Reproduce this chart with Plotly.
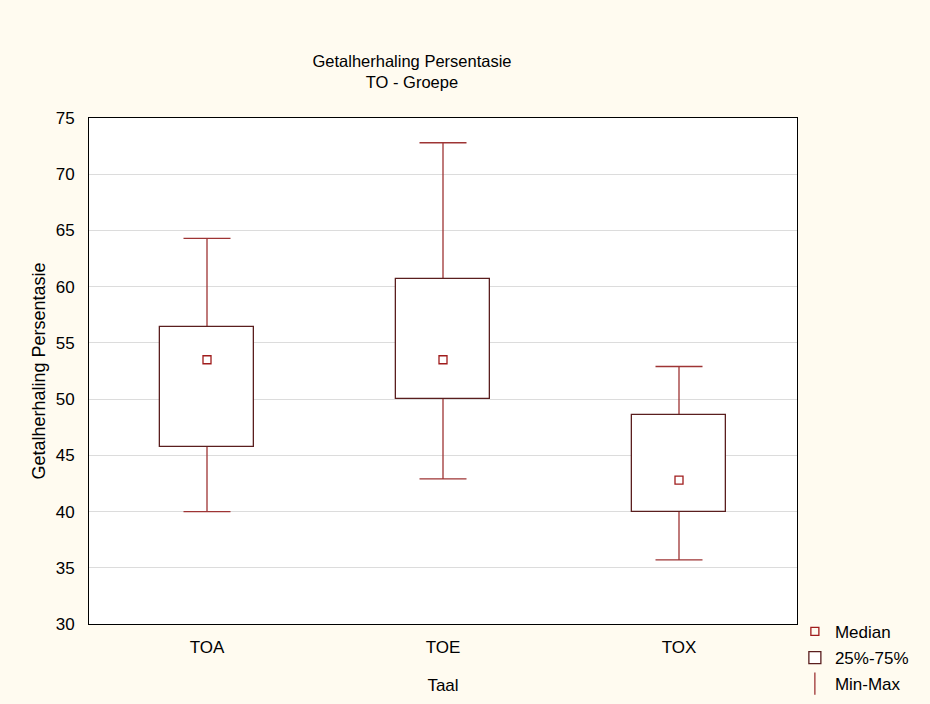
import plotly.graph_objects as go

categories = ["TOA", "TOE", "TOX"]
q_min = [40.0, 42.9, 35.7]
q1 = [45.7, 50.0, 40.0]
median = [53.5, 53.5, 42.8]
q3 = [56.4, 60.7, 48.6]
q_max = [64.3, 72.8, 52.9]

y_ticks = [30, 35, 40, 45, 50, 55, 60, 65, 70, 75]

whisker_col = "#9e3434"
box_col = "#5a1e1e"
med_col = "#a01c1c"
bg = "#fffbf0"
font = "Liberation Sans, Arial, sans-serif"

fig = go.Figure()

# whiskers (min-max) anchored at median, drawn beneath the box
fig.add_trace(go.Scatter(
    x=categories, y=median, mode="markers", name="Min-Max",
    marker=dict(symbol="line-ns-open", size=20, color=whisker_col,
                line=dict(color=whisker_col, width=1.3)),
    error_y=dict(type="data", symmetric=False,
                 array=[mx - m for mx, m in zip(q_max, median)],
                 arrayminus=[m - mn for m, mn in zip(median, q_min)],
                 color=whisker_col, thickness=1.3, width=23.5),
    yaxis="y", legendrank=3, legendgroup="c",
))

# box 25%-75% on overlay axis so it covers whisker
fig.add_trace(go.Bar(
    x=categories, y=[b - a for a, b in zip(q1, q3)], base=q1,
    name="25%-75%", width=0.4,
    marker=dict(color="white", line=dict(color=box_col, width=1.3)),
    yaxis="y2", legendrank=2, legendgroup="b",
))

# median markers
fig.add_trace(go.Scatter(
    x=categories, y=median, mode="markers", name="Median",
    marker=dict(symbol="square-open", size=8, color=med_col,
                line=dict(color=med_col, width=1.3)),
    yaxis="y2", legendrank=1, legendgroup="a",
))

fig.update_layout(
    width=930, height=704,
    paper_bgcolor=bg, plot_bgcolor="white",
    margin=dict(l=89, r=133, t=118, b=80, autoexpand=False),
    font=dict(family=font, size=17, color="black"),
    title=dict(text="Getalherhaling Persentasie<br>TO - Groepe",
               x=412 / 930, xanchor="center",
               y=1 - 67 / 704, yanchor="top",
               font=dict(family=font, size=16.5, color="black")),
    xaxis=dict(title=dict(text="Taal", standoff=22, font=dict(size=17)),
               showline=True, linecolor="black", linewidth=1, mirror=True,
               showgrid=False, ticks="outside", ticklen=8,
               tickcolor="rgba(0,0,0,0)", range=[-0.5, 2.5],
               tickfont=dict(size=17)),
    yaxis=dict(title=dict(text="Getalherhaling Persentasie", standoff=5,
                          font=dict(size=18)),
               range=[30, 75], tickvals=y_ticks,
               showline=True, linecolor="black", linewidth=1, mirror=True,
               showgrid=True, gridcolor="#dcdcdc", gridwidth=1,
               zeroline=False, ticks="outside", ticklen=10,
               tickcolor="rgba(0,0,0,0)", tickfont=dict(size=17)),
    yaxis2=dict(overlaying="y", matches="y", range=[30, 75],
                showgrid=False, showticklabels=False, zeroline=False,
                showline=False),
    showlegend=True,
    legend=dict(x=0.997, xanchor="left", y=0.02, yanchor="top",
                bgcolor="rgba(0,0,0,0)", font=dict(size=17),
                tracegroupgap=1, traceorder="grouped"),
    bargap=0,
)

fig.write_html(
    "out.html",
    config={"displayModeBar": False},
    post_script=(
        "document.body.style.margin='0';"
        "document.body.style.background='" + bg + "';"
    ),
)
